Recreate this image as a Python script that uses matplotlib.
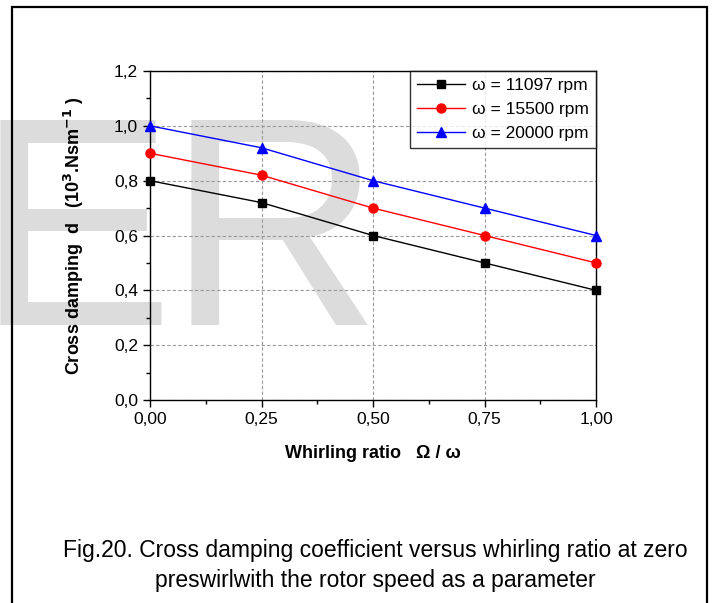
import matplotlib
matplotlib.use("Agg")
import matplotlib.pyplot as plt
from matplotlib.patches import Rectangle
from matplotlib.ticker import MultipleLocator

plt.rcParams['font.family'] = ['Liberation Sans', 'DejaVu Sans']

ratio = [0.0, 0.25, 0.5, 0.75, 1.0]
d_11097 = [0.80, 0.72, 0.60, 0.50, 0.40]
d_15500 = [0.90, 0.82, 0.70, 0.60, 0.50]
d_20000 = [1.00, 0.92, 0.80, 0.70, 0.60]
labels = ['\u03c9 = 11097 rpm', '\u03c9 = 15500 rpm', '\u03c9 = 20000 rpm']
xticks = [0.0, 0.25, 0.5, 0.75, 1.0]
xticklabels = ['0,00', '0,25', '0,50', '0,75', '1,00']
yticks = [0.0, 0.2, 0.4, 0.6, 0.8, 1.0, 1.2]
yticklabels = ['0,0', '0,2', '0,4', '0,6', '0,8', '1,0', '1,2']

fig = plt.figure(figsize=(7.13, 6.03), dpi=100)

# watermark letters behind everything
fig.text(-24 / 713, 1 - 325 / 603, 'E', fontsize=214, color='#dcdcdc',
         ha='left', va='baseline', zorder=0)
fig.text(167 / 713, 1 - 325 / 603, 'R', fontsize=214, color='#dcdcdc',
         ha='left', va='baseline', zorder=0)

# outer frame
fig.patches.append(Rectangle((12 / 713, -0.05), 695 / 713, 1.05 - 7 / 603,
                             transform=fig.transFigure, fill=False,
                             edgecolor='black', linewidth=1.6, zorder=5))

ax = fig.add_axes([150 / 713, 203 / 603, 446 / 713, 329 / 603])
ax.set_zorder(2)
ax.patch.set_alpha(0)

ax.plot(ratio, d_11097, color='black', marker='s', markersize=6, lw=1,
        label=labels[0], clip_on=False, zorder=3)
ax.plot(ratio, d_15500, color='red', marker='o', markersize=6.5, lw=1,
        label=labels[1], clip_on=False, zorder=3)
ax.plot(ratio, d_20000, color='blue', marker='^', markersize=7, lw=1,
        label=labels[2], clip_on=False, zorder=3)

ax.set_xlim(0, 1)
ax.set_ylim(0, 1.2)
ax.set_xticks(xticks)
ax.set_xticklabels(xticklabels)
ax.set_yticks(yticks)
ax.set_yticklabels(yticklabels)
ax.xaxis.set_minor_locator(MultipleLocator(0.125))
ax.yaxis.set_minor_locator(MultipleLocator(0.1))
ax.tick_params(which='major', direction='out', length=5, width=1,
               labelsize=12.5)
ax.tick_params(which='minor', direction='out', length=3, width=1)
ax.grid(True, which='major', linestyle=(0, (3, 2)), color='#999999',
        linewidth=0.8)
for s in ax.spines.values():
    s.set_linewidth(1)

ax.set_xlabel('Whirling ratio   \u03a9 / \u03c9', fontsize=13,
              fontweight='bold', labelpad=13)
ax.set_ylabel('Cross damping  d   (10$^\\mathbf{3}$.Nsm$^\\mathbf{-1}$ )',
              fontsize=13, fontweight='bold', labelpad=20)

leg = ax.legend(loc='upper right', borderaxespad=0, fontsize=12.5,
                frameon=True, fancybox=False, handlelength=2.8,
                handletextpad=0.4, borderpad=0.4, labelspacing=0.5)
leg.get_frame().set_edgecolor('black')
leg.get_frame().set_linewidth(1)

fig.text(375 / 713, 1 - 550 / 603,
         'Fig.20. Cross damping coefficient versus whirling ratio at zero',
         fontsize=16.5, ha='center', va='center')
fig.text(375 / 713, 1 - 580 / 603,
         'preswirlwith the rotor speed as a parameter',
         fontsize=16.5, ha='center', va='center')

fig.savefig('out.png', dpi=100)
